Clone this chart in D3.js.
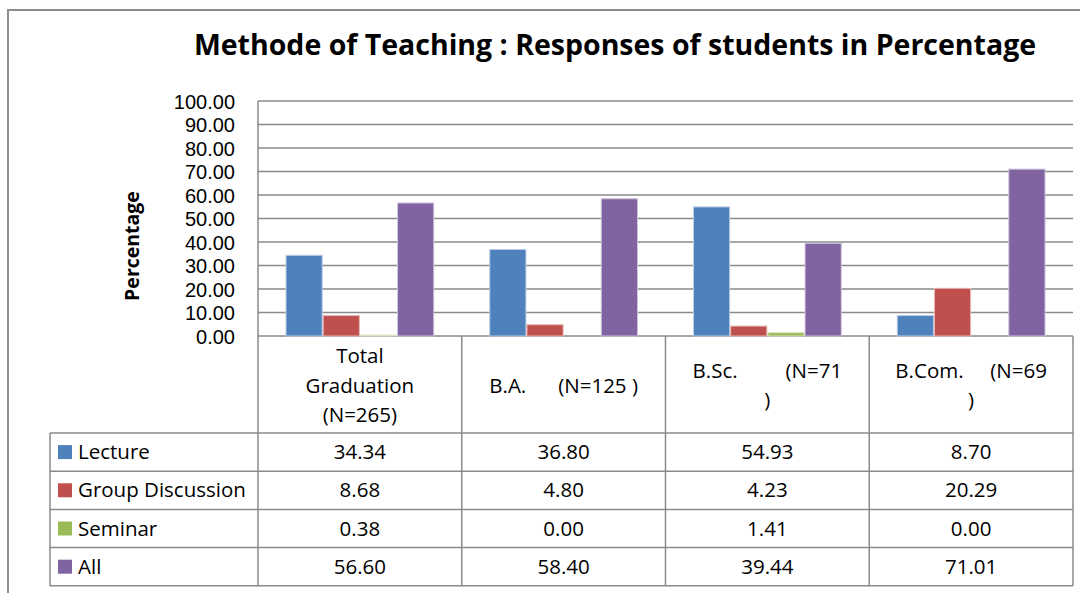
<!DOCTYPE html>
<html>
<head>
<meta charset="utf-8">
<script src="https://cdn.jsdelivr.net/npm/d3@7"></script>
<style>
  html, body { margin: 0; padding: 0; background: #fff; }
  svg { display: block; font-family: "Open Sans", sans-serif; }
  text { white-space: pre; }
</style>
</head>
<body>
<svg id="chart" width="1080" height="593"></svg>
<script>
// ---- data ----
const categories = ["Total Graduation (N=265)", "B.A. (N=125 )", "B.Sc. (N=71 )", "B.Com. (N=69 )"];
const categoryLines = [
  ["Total", "Graduation", "(N=265)"],
  ["B.A.      (N=125 )"],
  ["B.Sc.         (N=71", ")"],
  ["B.Com.     (N=69", ")"]
];
const seriesNames = ["Lecture", "Group Discussion", "Seminar", "All"];
const lecture = [34.34, 36.80, 54.93, 8.70];
const groupDiscussion = [8.68, 4.80, 4.23, 20.29];
const seminar = [0.38, 0.00, 1.41, 0.00];
const all = [56.60, 58.40, 39.44, 71.01];
const seriesValues = [lecture, groupDiscussion, seminar, all];
const seriesColors = ["#4F81BD", "#C0504D", "#9BBB59", "#8064A2"];
const seriesEdges = ["#b9cde5", "#e6b9b8", "#d7e4bd", "#ccc1da"];
const yTicks = [0, 10, 20, 30, 40, 50, 60, 70, 80, 90, 100];
const title = "Methode of Teaching : Responses of students in Percentage";
const yTitle = "Percentage";

// ---- layout ----
const svg = d3.select("#chart");
const plotL = 258, plotR = 1073, plotT = 101, plotB = 336;
const headerB = 433, rowH = 38.2, tableL = 50;
const gridColor = "#8a8a8a";
const tableFont = 20.5;

// outer frame
svg.append("path")
  .attr("d", `M8,600 L8,10 L1090,10`)
  .attr("fill", "none").attr("stroke", "#8c8c8c").attr("stroke-width", 2);

// title
svg.append("text")
  .attr("x", 615).attr("y", 55)
  .attr("text-anchor", "middle")
  .attr("font-size", 28.5).attr("font-weight", "bold").attr("fill", "#000")
  .text(title);

const x0 = d3.scaleBand().domain(categories).range([plotL, plotR]).padding(0);
const bw = x0.bandwidth();
const x1 = d3.scaleBand().domain(seriesNames).range([27.5, bw - 27.5]).padding(0);
const y = d3.scaleLinear().domain([0, 100]).range([plotB, plotT]);

// gridlines
svg.append("g").selectAll("line").data(yTicks).join("line")
  .attr("x1", plotL).attr("x2", plotR)
  .attr("y1", d => y(d)).attr("y2", d => y(d))
  .attr("stroke", gridColor).attr("stroke-width", 1.5);

// y axis labels
const yAxis = d3.axisLeft(y).tickValues(yTicks).tickFormat(d3.format(".2f")).tickSize(0).tickPadding(0);
const ya = svg.append("g").attr("transform", `translate(235,0)`).call(yAxis);
ya.select(".domain").remove();
ya.selectAll("text").attr("font-size", 20).attr("fill", "#000")
  .attr("font-family", "'Liberation Sans', Arial, sans-serif").attr("dy", "0.36em");

// y title
svg.append("text")
  .attr("transform", `translate(139,246) rotate(-90)`)
  .attr("text-anchor", "middle")
  .attr("font-size", 19.5).attr("font-weight", "bold").attr("fill", "#000")
  .text(yTitle);

// bars
const barData = [];
categories.forEach((c, ci) => {
  seriesNames.forEach((s, si) => {
    barData.push({ c, s, si, v: seriesValues[si][ci] });
  });
});
svg.append("g").selectAll("rect").data(barData.filter(d => d.v > 0)).join("rect")
  .attr("x", d => x0(d.c) + x1(d.s) + 0.5)
  .attr("y", d => y(d.v))
  .attr("width", x1.bandwidth() - 1)
  .attr("height", d => y(0) - y(d.v))
  .attr("fill", d => seriesColors[d.si])
  .attr("stroke", d => seriesEdges[d.si]).attr("stroke-width", 1);

// table lines
const tg = svg.append("g").attr("stroke", gridColor).attr("stroke-width", 1.5);
const tableB = headerB + rowH * seriesNames.length;
tg.append("line").attr("x1", plotL).attr("x2", plotL).attr("y1", plotT).attr("y2", tableB);
const colEdges = categories.map(c => x0(c) + bw);
tg.selectAll("line.col").data(colEdges).join("line").attr("class", "col")
  .attr("x1", d => d).attr("x2", d => d).attr("y1", plotB).attr("y2", tableB);
tg.append("line").attr("x1", tableL).attr("x2", tableL).attr("y1", headerB).attr("y2", tableB);
d3.range(seriesNames.length + 1).forEach(i => {
  tg.append("line").attr("x1", tableL).attr("x2", plotR)
    .attr("y1", headerB + i * rowH).attr("y2", headerB + i * rowH);
});

// header text
const headMid = (plotB + headerB) / 2 + 1;
const lineGap = 29.5;
categories.forEach((c, ci) => {
  const lines = categoryLines[ci];
  const cx = x0(c) + bw / 2;
  lines.forEach((ln, li) => {
    svg.append("text")
      .attr("x", cx)
      .attr("y", headMid + (li - (lines.length - 1) / 2) * lineGap)
      .attr("dy", "0.35em")
      .attr("text-anchor", "middle")
      .attr("font-size", tableFont).attr("fill", "#000")
      .text(ln);
  });
});

// rows: legend + values
seriesNames.forEach((s, si) => {
  const cy = headerB + rowH * si + rowH / 2;
  svg.append("rect").attr("x", 58).attr("y", cy - 7).attr("width", 14).attr("height", 14)
    .attr("fill", seriesColors[si]);
  svg.append("text").attr("x", 78).attr("y", cy).attr("dy", "0.35em")
    .attr("font-size", tableFont).attr("fill", "#000").text(s);
  categories.forEach((c, ci) => {
    svg.append("text")
      .attr("x", x0(c) + bw / 2).attr("y", cy).attr("dy", "0.35em")
      .attr("text-anchor", "middle")
      .attr("font-size", tableFont).attr("fill", "#000")
      .text(d3.format(".2f")(seriesValues[si][ci]));
  });
});
</script>
</body>
</html>
